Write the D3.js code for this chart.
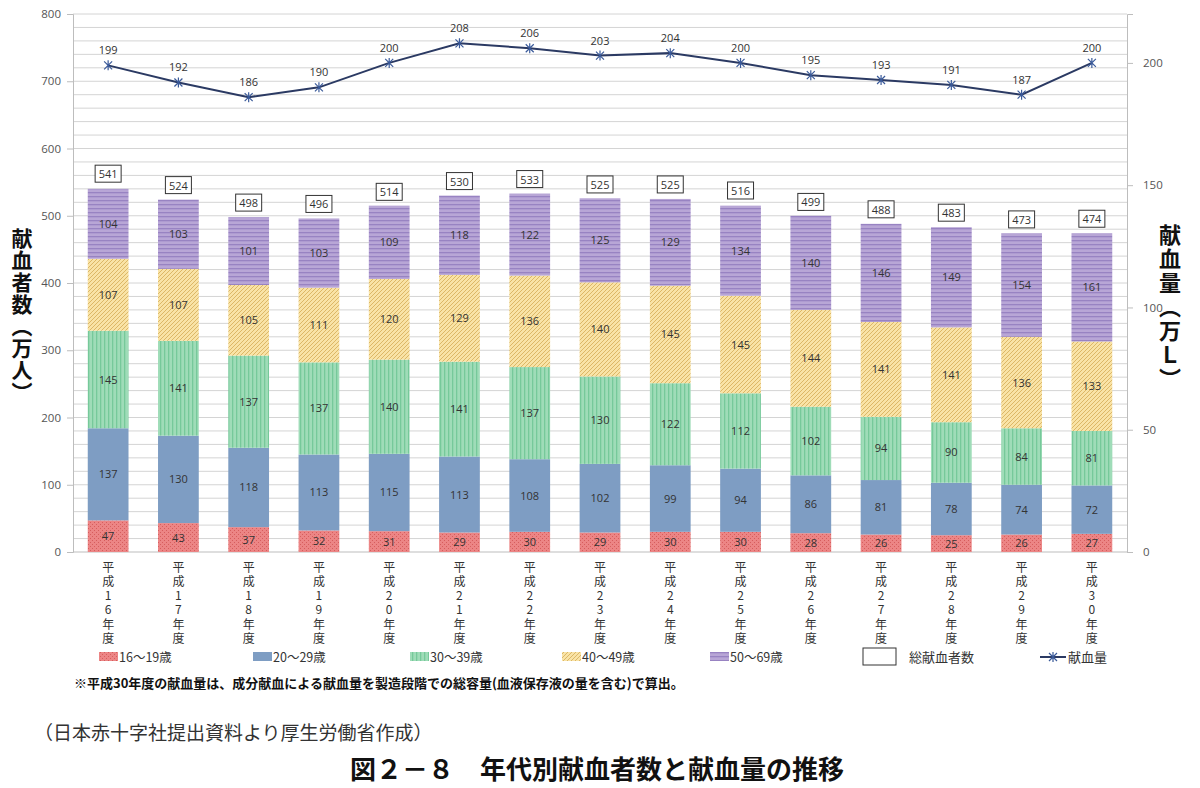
<!DOCTYPE html>
<html><head><meta charset="utf-8">
<script src="https://cdn.jsdelivr.net/npm/d3@7"></script>
<style>body{margin:0;background:#fff;}svg{display:block;font-family:"Noto Sans CJK JP","Noto Sans",sans-serif;}</style>
</head><body>
<svg id="c" width="1200" height="788"></svg>
<script>
const years = ["16","17","18","19","20","21","22","23","24","25","26","27","28","29","30"];
const age16_19 = [47,43,37,32,31,29,30,29,30,30,28,26,25,26,27];
const age20_29 = [137,130,118,113,115,113,108,102,99,94,86,81,78,74,72];
const age30_39 = [145,141,137,137,140,141,137,130,122,112,102,94,90,84,81];
const age40_49 = [107,107,105,111,120,129,136,140,145,145,144,141,141,136,133];
const age50_69 = [104,103,101,103,109,118,122,125,129,134,140,146,149,154,161];
const totals = [541,524,498,496,514,530,533,525,525,516,499,488,483,473,474];
const volume = [199,192,186,190,200,208,206,203,204,200,195,193,191,187,200];
const seriesNames = ["16〜19歳","20〜29歳","30〜39歳","40〜49歳","50〜69歳"];
const leftTicks = [0,100,200,300,400,500,600,700,800];
const rightTicks = [0,50,100,150,200];

const svg = d3.select("#c");
const defs = svg.append("defs");
function pat(id, base, draw){
  const p = defs.append("pattern").attr("id",id).attr("patternUnits","userSpaceOnUse").attr("width",4).attr("height",4);
  p.append("rect").attr("width",4).attr("height",4).attr("fill",base);
  draw(p);
}
pat("pRed","#ec8585",p=>{p.append("rect").attr("x",0).attr("y",0).attr("width",1).attr("height",1).attr("fill","#d65d5d");p.append("rect").attr("x",2).attr("y",2).attr("width",1).attr("height",1).attr("fill","#d65d5d");});
pat("pBlue","#7e9dc3",p=>{});
pat("pGreen","#9fdcb8",p=>{p.append("rect").attr("x",0).attr("y",0).attr("width",1.3).attr("height",4).attr("fill","#76c99a");});
pat("pYellow","#f9e3a6",p=>{p.append("path").attr("d","M-1,1 L1,-1 M0,4 L4,0 M3,5 L5,3").attr("stroke","#dcb766").attr("stroke-width",1);});
pat("pPurple","#b8a6d6",p=>{p.append("rect").attr("x",0).attr("y",0).attr("width",4).attr("height",1.3).attr("fill","#9883c2");});
const fills = ["url(#pRed)","url(#pBlue)","url(#pGreen)","url(#pYellow)","url(#pPurple)"];

const L = 73, R = 1127, T = 14, B = 552;
const x = d3.scaleBand().domain(years).range([L,R]).paddingInner(0.42).paddingOuter(0.21);
const y = d3.scaleLinear().domain([0,800]).range([B,T]);
const y2 = d3.scaleLinear().domain([0,220]).range([B,T]);

const g = svg.append("g");
g.selectAll("line.grid").data(d3.range(20,801,20)).enter().append("line")
  .attr("x1",L).attr("x2",R).attr("y1",d=>y(d)).attr("y2",d=>y(d))
  .attr("stroke","#d4d4d4").attr("stroke-width",1);
const ax = svg.append("g").attr("transform",`translate(${L},0)`).call(d3.axisLeft(y).tickValues(leftTicks).tickSize(6).tickPadding(6));
ax.select(".domain").attr("stroke","#bdbdbd");
ax.selectAll(".tick line").attr("stroke","#bdbdbd");
ax.selectAll("text").attr("fill","#555").style("font-size","11.5px").style("font-family","Open Sans, sans-serif");
const ax2 = svg.append("g").attr("transform",`translate(${R},0)`).call(d3.axisRight(y2).tickValues(rightTicks).tickSize(6).tickPadding(10));
ax2.select(".domain").attr("stroke","#bdbdbd");
ax2.selectAll(".tick line").attr("stroke","#bdbdbd");
ax2.selectAll("text").attr("fill","#555").style("font-size","11.5px").style("font-family","Open Sans, sans-serif");
svg.append("line").attr("x1",L).attr("x2",R).attr("y1",B).attr("y2",B).attr("stroke","#bdbdbd");

const rows = years.map((yr,i)=>({yr, a:age16_19[i], b:age20_29[i], c:age30_39[i], d:age40_49[i], e:age50_69[i]}));
const stack = d3.stack().keys(["a","b","c","d","e"])(rows);
stack.forEach((s,si)=>{
  const gg = svg.append("g");
  gg.selectAll("rect").data(s).enter().append("rect")
    .attr("x",d=>x(d.data.yr)).attr("width",x.bandwidth())
    .attr("y",d=>y(d[1])).attr("height",d=>y(d[0])-y(d[1]))
    .attr("fill",fills[si]);
  gg.selectAll("text").data(s).enter().append("text")
    .attr("x",d=>x(d.data.yr)+x.bandwidth()/2).attr("y",d=>(y(d[0])+y(d[1]))/2+4)
    .attr("text-anchor","middle").attr("fill","#333").style("font-size","11px")
    .style("font-family","Open Sans, sans-serif")
    .text(d=>d.data[s.key]);
});
const tb = svg.append("g");
years.forEach((yr,i)=>{
  const cx = x(yr)+x.bandwidth()/2, cy = y(totals[i]) - 14;
  tb.append("rect").attr("x",cx-13).attr("y",cy-9).attr("width",26).attr("height",17).attr("fill","#fff").attr("stroke","#333").attr("stroke-width",1);
  tb.append("text").attr("x",cx).attr("y",cy+4).attr("text-anchor","middle").attr("fill","#333").style("font-size","11px").style("font-family","Open Sans, sans-serif").text(totals[i]);
});
const lx = (d,i)=>x(years[i])+x.bandwidth()/2;
svg.append("path").datum(volume).attr("d",d3.line().x(lx).y(d=>y2(d)))
  .attr("fill","none").attr("stroke","#2b3a63").attr("stroke-width",2);
const mk = svg.append("g");
volume.forEach((v,i)=>{
  const cx = lx(v,i), cy = y2(v);
  mk.append("path").attr("d",`M${cx-4},${cy-4}L${cx+4},${cy+4}M${cx-4},${cy+4}L${cx+4},${cy-4}M${cx},${cy-5}L${cx},${cy+5}`)
    .attr("stroke","#3a5a9a").attr("stroke-width",1.2);
  mk.append("text").attr("x",cx).attr("y",cy-11).attr("text-anchor","middle").attr("fill","#333")
    .style("font-size","11px").style("font-family","Open Sans, sans-serif").text(v);
});
const xl = svg.append("g");
years.forEach(yr=>{
  const cx = x(yr)+x.bandwidth()/2;
  xl.append("text").attr("x",cx).attr("y",561).attr("writing-mode","vertical-rl")
    .style("text-orientation","upright").style("letter-spacing","2.3px")
    .attr("fill","#333").style("font-size","12px").text("平成"+yr+"年度");
});
svg.append("text").attr("x",22).attr("y",228).attr("writing-mode","vertical-rl")
  .attr("fill","#111").style("font-size","21px").style("font-weight","bold").style("letter-spacing","1px").text("献血者数（万人）");
svg.append("text").attr("x",1170).attr("y",224).attr("writing-mode","vertical-rl")
  .attr("fill","#111").style("font-size","22px").style("font-weight","bold").style("letter-spacing","2px").text("献血量（万Ｌ）");

const lg = svg.append("g");
const lgX = [99,253,410,562,710];
seriesNames.forEach((n,i)=>{
  lg.append("rect").attr("x",lgX[i]).attr("y",652).attr("width",19).attr("height",9).attr("fill",fills[i]);
  lg.append("text").attr("x",lgX[i]+20).attr("y",662).attr("fill","#333").style("font-size","12.5px").text(n);
});
lg.append("rect").attr("x",863).attr("y",648).attr("width",33).attr("height",17).attr("fill","#fff").attr("stroke","#333");
lg.append("text").attr("x",909).attr("y",662).attr("fill","#333").style("font-size","13px").text("総献血者数");
lg.append("line").attr("x1",1040).attr("x2",1066).attr("y1",657).attr("y2",657).attr("stroke","#2b3a63").attr("stroke-width",2);
lg.append("path").attr("d","M1049,653L1057,661M1049,661L1057,653M1053,652L1053,662").attr("stroke","#3a5a9a").attr("stroke-width",1.2);
lg.append("text").attr("x",1068).attr("y",662).attr("fill","#333").style("font-size","13px").text("献血量");

svg.append("text").attr("x",74).attr("y",688).attr("fill","#111").style("font-size","13px").style("font-weight","bold")
  .text("※平成30年度の献血量は、成分献血による献血量を製造段階での総容量(血液保存液の量を含む)で算出。");
svg.append("text").attr("x",34).attr("y",740).attr("fill","#333").style("font-size","19px")
  .text("（日本赤十字社提出資料より厚生労働省作成）");
svg.append("text").attr("x",350).attr("y",779).attr("fill","#111").style("font-size","26px").style("font-weight","bold")
  .text("図２－８　年代別献血者数と献血量の推移");
</script>
</body></html>
